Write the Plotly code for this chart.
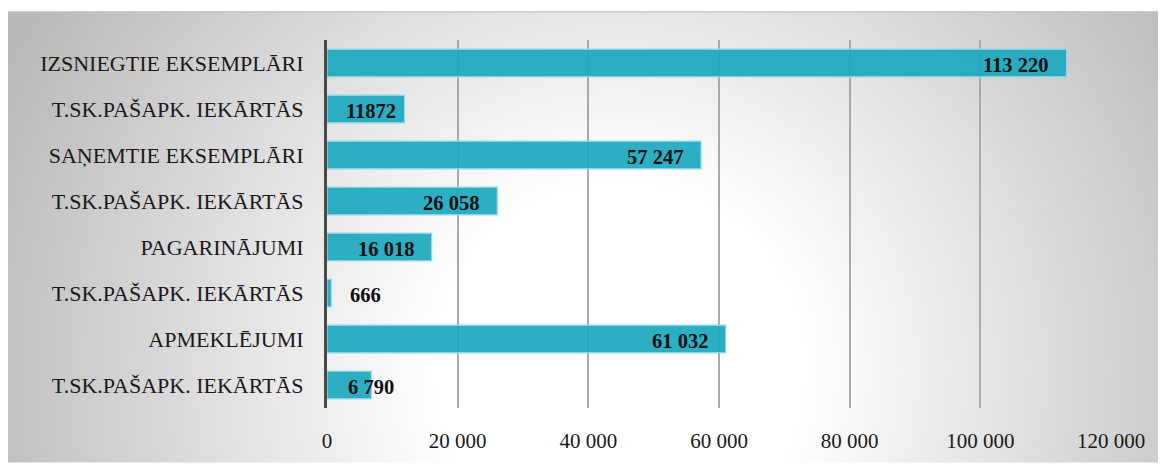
import base64
import plotly.graph_objects as go

categories = [
    "IZSNIEGTIE EKSEMPLĀRI",
    "T.SK.PAŠAPK. IEKĀRTĀS",
    "SAŅEMTIE EKSEMPLĀRI",
    "T.SK.PAŠAPK. IEKĀRTĀS",
    "PAGARINĀJUMI",
    "T.SK.PAŠAPK. IEKĀRTĀS",
    "APMEKLĒJUMI",
    "T.SK.PAŠAPK. IEKĀRTĀS",
]
values = [113220, 11872, 57247, 26058, 16018, 666, 61032, 6790]
value_labels = ["113 220", "11872", "57 247", "26 058", "16 018", "666", "61 032", "6 790"]
x_ticks = [0, 20000, 40000, 60000, 80000, 100000, 120000]

# the page body has an 8px margin, so the figure is drawn 8px in from the top-left
OFF = 8
W, H = 1166 - OFF, 465 - OFF
L, T = 327 - OFF, 40 - OFF
PW, PH = 784, 370
R, B = W - L - PW, H - T - PH
XMAX = 120000
SERIF = "Liberation Serif, Times New Roman, serif"

positions = list(range(len(categories)))

fig = go.Figure()
fig.add_trace(go.Bar(
    x=values, y=positions, orientation="h", width=0.6,
    marker=dict(color="rgba(30,168,190,0.93)",
                line=dict(color="rgba(150,218,230,1)", width=1.2)),
    hoverinfo="skip",
))

# data labels (inside end, centred on end if too narrow, outside if tiny)
LABEL_SIZE = 20.5
px_per_unit = PW / XMAX
for pos, v, lab in zip(positions, values, value_labels):
    bar_px = v * px_per_unit
    tw = sum(5 if ch == " " else 10 for ch in lab)
    if bar_px >= tw + 16:
        anchor, shift = "right", -7 if " " not in lab else -16
    elif bar_px >= tw * 0.6:
        anchor, shift = "center", 0
    else:
        anchor, shift = "left", 17
    fig.add_annotation(
        x=v, y=pos, xref="x", yref="y", text=lab, showarrow=False,
        xanchor=anchor, xshift=shift, yshift=-2,
        font=dict(family=SERIF, size=LABEL_SIZE, color="#111111", weight="bold"),
    )

# background radial gradient panel
px0, py0 = 0, 3
pw_, ph_ = W - px0, H - py0
svg = f'''<svg xmlns="http://www.w3.org/2000/svg" width="{pw_}" height="{ph_}" viewBox="0 0 {pw_} {ph_}" preserveAspectRatio="none">
<defs><radialGradient id="g" gradientUnits="userSpaceOnUse" cx="612" cy="360" r="680">
<stop offset="0" stop-color="#ffffff"/><stop offset="0.27" stop-color="#ffffff"/>
<stop offset="1" stop-color="#b9b9b9"/></radialGradient></defs>
<rect x="0" y="0" width="{pw_}" height="{ph_}" fill="url(#g)"/>
<line x1="0" y1="0.5" x2="{pw_}" y2="0.5" stroke="#c4c4c4" stroke-width="1.5"/>
</svg>'''
src = "data:image/svg+xml;base64," + base64.b64encode(svg.encode()).decode()


def paper_x(px):
    return (px - L) / PW


def paper_y(py):
    return (H - B - py) / PH


fig.add_layout_image(dict(
    source=src, xref="paper", yref="paper",
    x=paper_x(px0), y=paper_y(py0),
    sizex=paper_x(W) - paper_x(px0), sizey=paper_y(py0) - paper_y(H),
    sizing="stretch", xanchor="left", yanchor="top", layer="below",
))

fig.update_layout(
    width=W, height=H,
    margin=dict(l=L, r=R, t=T, b=B, pad=0),
    paper_bgcolor="white", plot_bgcolor="rgba(0,0,0,0)",
    showlegend=False,
    separators=". ",
    xaxis=dict(
        range=[0, XMAX], tickvals=x_ticks, tickformat=",d",
        showgrid=True, gridcolor="#a9a9a9", gridwidth=1.5,
        zeroline=False, showline=False, ticks="",
        ticklabelstandoff=18,
        tickfont=dict(family=SERIF, size=21, color="#1a1a1a"),
        fixedrange=True,
    ),
    yaxis=dict(
        range=[len(categories) - 0.5, -0.5],
        tickvals=positions, ticktext=categories,
        showgrid=False, zeroline=False,
        showline=True, linecolor="#4a4a4a", linewidth=3,
        ticks="", ticklabelstandoff=16,
        tickfont=dict(family=SERIF, size=22, color="#1a1a1a"),
        fixedrange=True,
    ),
)

fig.write_html("out.html")
